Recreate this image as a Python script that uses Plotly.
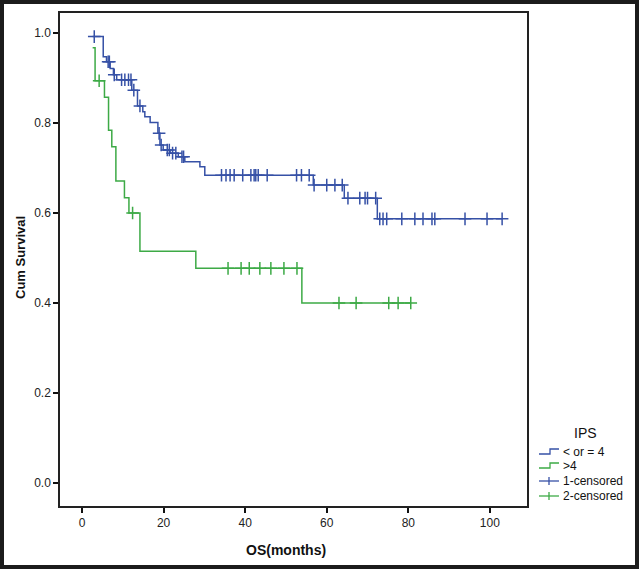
import numpy as np
import plotly.graph_objects as go

# ---------------- data ----------------
blue_name = "< or = 4"
blue_times = [2.6, 5.2, 6.0, 6.9, 7.7, 8.5, 12.2, 13.6, 14.9, 15.4, 16.7, 18.6, 19.1,
              19.9, 21.6, 23.6, 25.2, 28.9, 30.1, 56.7, 64.3, 72.4]
blue_surv = [0.992, 0.947, 0.936, 0.921, 0.907, 0.896, 0.873, 0.838, 0.825, 0.814, 0.801,
             0.777, 0.751, 0.740, 0.733, 0.725, 0.714, 0.703, 0.684, 0.662, 0.633, 0.587]
blue_end = 103.0
blue_censored = [3.0, 6.4, 6.7, 7.9, 9.7, 10.5, 11.4, 12.0, 12.7, 14.2, 18.9, 19.4, 20.9,
                 21.4, 22.2, 23.0, 24.5, 24.9, 34.2, 35.3, 36.3, 37.3, 39.4, 41.4, 42.2,
                 42.6, 43.2, 45.4, 52.6, 53.8, 55.7, 56.9, 60.0, 62.0, 63.8, 65.2, 68.1,
                 69.4, 70.0, 72.0, 73.0, 73.8, 74.7, 78.4, 81.6, 83.6, 85.8, 86.5, 93.9,
                 99.3, 103.0]

green_name = ">4"
green_times = [2.6, 3.2, 5.5, 6.5, 7.3, 8.3, 10.4, 11.5, 14.2, 27.9, 53.9]
green_surv = [0.967, 0.894, 0.857, 0.784, 0.747, 0.671, 0.634, 0.600, 0.515, 0.477, 0.400]
green_end = 80.6
green_censored = [4.2, 12.4, 35.8, 39.0, 41.0, 43.6, 46.3, 49.5, 52.7, 63.0, 67.2, 75.2,
                  77.5, 80.6]

x_ticks = [0, 20, 40, 60, 80, 100]
y_ticks = [0.0, 0.2, 0.4, 0.6, 0.8, 1.0]
legend_title = "IPS"
legend_labels = ["< or = 4", ">4", "1-censored", "2-censored"]

BLUE = "#3651a6"
GREEN = "#3daa46"

# ---------------- layout geometry ----------------
W, H = 639, 569
L, R, T, B = 60, 112, 13, 63
PW, PH = W - L - R, H - T - B


def px(xp):
    return (xp - L) / PW


def py(yp):
    return (H - B - yp) / PH


def surv_at(times, surv, t):
    idx = np.searchsorted(np.array(times), t, side="right") - 1
    idx = max(idx, 0)
    return surv[idx]


fig = go.Figure()

for times, surv, end, cens, color, name in [
    (blue_times, blue_surv, blue_end, blue_censored, BLUE, blue_name),
    (green_times, green_surv, green_end, green_censored, GREEN, green_name),
]:
    fig.add_trace(go.Scatter(
        x=list(times) + [end], y=list(surv) + [surv[-1]],
        mode="lines", line=dict(color=color, width=1.5, shape="hv"),
        name=name, showlegend=False, hoverinfo="x+y"))
    fig.add_trace(go.Scatter(
        x=cens, y=[surv_at(times, surv, t) for t in cens],
        mode="markers",
        marker=dict(symbol="cross-thin", size=9, line=dict(color=color, width=1.5)),
        name=name + " censored", showlegend=False, hoverinfo="x+y"))

FONT = "Arial, Liberation Sans, sans-serif"

fig.update_layout(
    width=W, height=H,
    margin=dict(l=L, r=R, t=T, b=B),
    paper_bgcolor="white", plot_bgcolor="white",
    font=dict(family=FONT, size=12, color="#222"),
    xaxis=dict(range=[-5.4, 109.1], tickvals=x_ticks, ticks="outside", ticklen=5,
               tickwidth=1.5, tickcolor="#111", showline=True, linecolor="#222",
               linewidth=1.5, mirror=True, showgrid=False, zeroline=False,
               tickfont=dict(size=12, color="#222")),
    yaxis=dict(range=[-0.0511, 1.0444], tickvals=y_ticks, tickformat=".1f",
               ticks="outside", ticklen=5, tickwidth=1.5, tickcolor="#111",
               showline=True, linecolor="#222", linewidth=1.5, mirror=True,
               showgrid=False, zeroline=False, tickfont=dict(size=12, color="#222")),
    showlegend=False,
)

# axis titles
fig.add_annotation(text="<b>OS(months)</b>", x=50, xref="x", y=py(550), yref="paper",
                   showarrow=False, font=dict(size=14, color="#111"),
                   xanchor="center", yanchor="middle")
fig.add_annotation(text="<b>Cum Survival</b>", x=px(21), xref="paper", y=0.5, yref="y",
                   showarrow=False, textangle=-90, font=dict(size=13, color="#111"),
                   xanchor="center", yanchor="middle")

# manual legend (step icons and cross icons)
fig.add_annotation(text=legend_title, x=px(585), y=py(433), xref="paper", yref="paper",
                   showarrow=False, font=dict(size=14, color="#111"),
                   xanchor="center", yanchor="middle")
rows = [452, 466, 481, 496]
colors = [BLUE, GREEN, BLUE, GREEN]
for i, (lab, yrow, col) in enumerate(zip(legend_labels, rows, colors)):
    fig.add_annotation(text=lab, x=px(561), y=py(yrow), xref="paper", yref="paper",
                       showarrow=False, font=dict(size=12, color="#111"),
                       xanchor="left", yanchor="middle")
    if i < 2:
        path = (f"M {px(539)},{py(yrow + 2)} L {px(550)},{py(yrow + 2)} "
                f"L {px(550)},{py(yrow - 3)} L {px(559)},{py(yrow - 3)}")
        fig.add_shape(type="path", path=path, xref="paper", yref="paper",
                      line=dict(color=col, width=1.3))
    else:
        fig.add_shape(type="line", x0=px(539), x1=px(559), y0=py(yrow), y1=py(yrow),
                      xref="paper", yref="paper", line=dict(color=col, width=1.3))
        fig.add_shape(type="line", x0=px(549), x1=px(549), y0=py(yrow - 4),
                      y1=py(yrow + 4), xref="paper", yref="paper",
                      line=dict(color=col, width=1.3))

# outer frame of the picture
fig.add_shape(type="rect", x0=px(2), x1=px(637), y0=py(567), y1=py(2),
              xref="paper", yref="paper", line=dict(color="#1c1c1c", width=4))

fig.write_html(
    "out.html",
    config={"displayModeBar": False},
    post_script="document.body.style.margin='0';document.body.style.overflow='hidden';",
)
